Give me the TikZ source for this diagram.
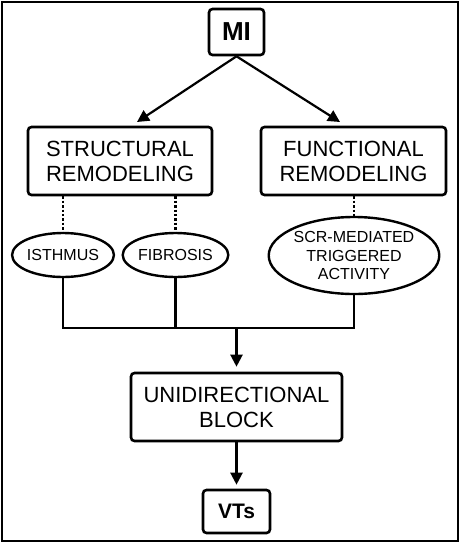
\documentclass[tikz,border=0pt]{standalone}
\usepackage{fontspec}
\setmainfont{Liberation Sans}
\usetikzlibrary{arrows.meta,shapes.geometric}
\begin{document}
\begin{tikzpicture}[x=1pt,y=-1pt,
  box/.style={draw,line width=2.6pt,rounded corners=3.5pt,inner sep=0pt,align=center},
  big/.style={font=\fontsize{22}{25}\selectfont},
  oval/.style={draw,ellipse,line width=2.4pt,inner sep=0pt,align=center,font=\fontsize{16}{18.5}\selectfont},
  arr/.style={line width=2.2pt,-{Triangle[length=12pt,width=12pt]}},
  conn/.style={line width=2.2pt},
  dots/.style={line width=2.4pt,dotted}]
\useasboundingbox (0,0) rectangle (459,542);
\draw[line width=2pt] (1.5,1.5) rectangle (457.5,540.5);
\node[box,minimum width=55pt,minimum height=46pt,font=\fontsize{26}{28}\bfseries\selectfont] (mi) at (236.5,32) {MI};
\node[box,big,minimum width=184pt,minimum height=68pt] (sr) at (120,161) {STRUCTURAL\\REMODELING};
\node[box,big,minimum width=185pt,minimum height=68pt] (fr) at (353.5,161) {FUNCTIONAL\\REMODELING};
\node[oval,minimum width=100pt,minimum height=44pt] (isth) at (63,255) {ISTHMUS};
\node[oval,minimum width=102pt,minimum height=44pt] (fib) at (175.5,255) {FIBROSIS};
\node[oval,minimum width=151pt,minimum height=77pt] (scr) at (354,255.5) {SCR-MEDIATED\\TRIGGERED\\ACTIVITY};
\node[box,big,minimum width=211pt,minimum height=68pt] (ub) at (236.5,407) {UNIDIRECTIONAL\\BLOCK};
\node[box,minimum width=67pt,minimum height=43pt,font=\fontsize{21}{23}\bfseries\selectfont] (vt) at (236.5,511.5) {VTs};
\coordinate (lt) at (137,122);
\coordinate (rt) at (340,122);
\coordinate (j) at (236.5,328);
\draw[arr] (mi.south) -- (lt);
\draw[arr] (mi.south) -- (rt);
\draw[dots] (isth.north |- sr.south) -- (isth.north);
\draw[dots] (fib.north |- sr.south) -- (fib.north);
\draw[dots] (scr.north |- fr.south) -- (scr.north);
\draw[conn] (isth.south) |- (scr.south |- j) -- (scr.south);
\draw[conn] (fib.south) -- (fib.south |- j);
\draw[arr,shorten >=5pt] (j) -- (ub.north);
\draw[arr,shorten >=4pt] (ub.south) -- (vt.north);
\end{tikzpicture}
\end{document}
